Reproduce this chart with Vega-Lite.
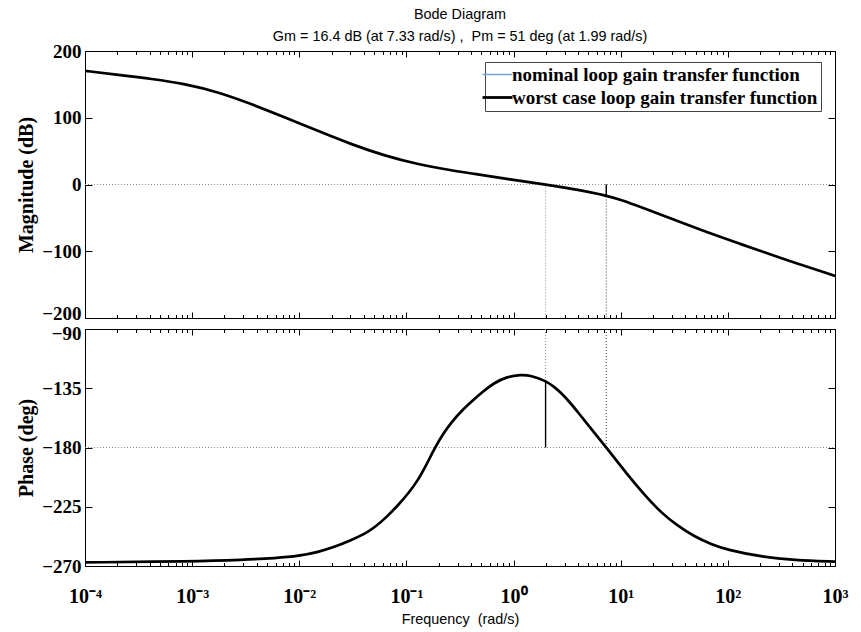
{
  "$schema": "https://vega.github.io/schema/vega-lite/v6.json",
  "background": "white",
  "padding": {"left": 16, "top": 7, "right": 5, "bottom": 2},
  "title": {
    "text": "Bode Diagram",
    "subtitle": "Gm = 16.4 dB (at 7.33 rad/s) , \u00a0Pm = 51 deg (at 1.99 rad/s)",
    "anchor": "middle",
    "frame": "group",
    "font": "Liberation Sans",
    "fontSize": 14.4,
    "fontWeight": "normal",
    "color": "black",
    "subtitleFont": "Liberation Sans",
    "subtitleFontSize": 14.4,
    "subtitleColor": "black",
    "subtitlePadding": 7.6,
    "offset": -2.4
  },
  "datasets": {
    "mag": [
      {"w": 0.0001, "db": 170.3}, {"w": 0.000205, "db": 164.3}, {"w": 0.000419, "db": 158.3},
      {"w": 0.000858, "db": 150.8}, {"w": 0.00176, "db": 138.4}, {"w": 0.0036, "db": 120.4},
      {"w": 0.00736, "db": 100.4}, {"w": 0.0151, "db": 80}, {"w": 0.0308, "db": 60},
      {"w": 0.0631, "db": 43}, {"w": 0.129, "db": 30}, {"w": 0.265, "db": 21},
      {"w": 0.43, "db": 16}, {"w": 0.88, "db": 8.1}, {"w": 1.99, "db": 0},
      {"w": 3.69, "db": -7}, {"w": 7.33, "db": -16.4}, {"w": 10, "db": -23},
      {"w": 15.5, "db": -33.9}, {"w": 31.6, "db": -52.9}, {"w": 64.6, "db": -71.9},
      {"w": 132, "db": -89.3}, {"w": 270, "db": -106.8}, {"w": 1000, "db": -137}
    ],
    "phase": [
      {"w": 0.0001, "deg": -267.3}, {"w": 0.001, "deg": -266.5}, {"w": 0.003, "deg": -265.3},
      {"w": 0.006, "deg": -264}, {"w": 0.01, "deg": -262.4}, {"w": 0.0151, "deg": -259.3},
      {"w": 0.021, "deg": -255.8}, {"w": 0.0308, "deg": -250.2}, {"w": 0.04, "deg": -246},
      {"w": 0.0509, "deg": -240.5}, {"w": 0.065, "deg": -233}, {"w": 0.0841, "deg": -223.6},
      {"w": 0.105, "deg": -214.5}, {"w": 0.129, "deg": -204.6}, {"w": 0.155, "deg": -192.5},
      {"w": 0.185, "deg": -180}, {"w": 0.22, "deg": -169.5}, {"w": 0.265, "deg": -160.5},
      {"w": 0.323, "deg": -152.5}, {"w": 0.42, "deg": -144}, {"w": 0.497, "deg": -138.6},
      {"w": 0.661, "deg": -130.8}, {"w": 0.85, "deg": -126.5}, {"w": 1.17, "deg": -124.6},
      {"w": 1.45, "deg": -125.3}, {"w": 1.99, "deg": -129.3}, {"w": 2.4, "deg": -134},
      {"w": 2.77, "deg": -138.5}, {"w": 3.3, "deg": -145}, {"w": 3.97, "deg": -153},
      {"w": 5.3, "deg": -165.8}, {"w": 7.33, "deg": -180}, {"w": 11.6, "deg": -200.8},
      {"w": 16.6, "deg": -215.8}, {"w": 23.8, "deg": -229.5}, {"w": 34, "deg": -239.5},
      {"w": 48.6, "deg": -247.6}, {"w": 70, "deg": -253.5}, {"w": 99.6, "deg": -257.8},
      {"w": 204, "deg": -263}, {"w": 417, "deg": -265.5}, {"w": 1000, "deg": -266.7}
    ],
    "rules": [
      {"panel": "mag", "kind": "h", "tone": "light", "w": 0.0001, "w2": 1000, "a": 0},
      {"panel": "mag", "kind": "v", "tone": "light", "w": 1.99, "a": 0, "b": -200},
      {"panel": "mag", "kind": "v", "tone": "dark", "w": 7.33, "a": 0, "b": -200},
      {"panel": "mag", "kind": "m", "tone": "solid", "w": 7.33, "a": 0, "b": -16.4},
      {"panel": "phase", "kind": "h", "tone": "light", "w": 0.0001, "w2": 1000, "a": -180},
      {"panel": "phase", "kind": "v", "tone": "light", "w": 1.99, "a": -90, "b": -129},
      {"panel": "phase", "kind": "v", "tone": "dark", "w": 7.33, "a": -90, "b": -180},
      {"panel": "phase", "kind": "m", "tone": "solid", "w": 1.99, "a": -180, "b": -129}
    ]
  },
  "spacing": 11,
  "bounds": "flush",
  "resolve": {"legend": {"color": "independent"}},
  "vconcat": [
    {
      "width": 750,
      "height": 267,
      "layer": [
        {
          "data": {"name": "rules"},
          "transform": [{"filter": "datum.panel == 'mag' && datum.kind == 'h'"}],
          "mark": {"type": "rule", "strokeDash": [1, 2], "strokeWidth": 1, "color": "#8a8a8a"},
          "encoding": {
            "x": {"field": "w", "type": "quantitative", "scale": {"type": "log", "domain": [0.0001, 1000], "nice": false},
              "axis": {"orient": "top", "values": [0.0002,0.0003,0.0004,0.0005,0.0006,0.0007,0.0008,0.0009,0.002,0.003,0.004,0.005,0.006,0.007,0.008,0.009,0.02,0.03,0.04,0.05,0.06,0.07,0.08,0.09,0.2,0.3,0.4,0.5,0.6,0.7,0.8,0.9,2,3,4,5,6,7,8,9,20,30,40,50,60,70,80,90,200,300,400,500,600,700,800,900], "tickSize": -3.5, "labels": false, "domain": false, "title": null}},
            "x2": {"field": "w2"},
            "y": {"field": "a", "type": "quantitative", "scale": {"domain": [-200, 200], "nice": false}, "axis": null}
          }
        },
        {
          "data": {"name": "rules"},
          "transform": [{"filter": "datum.panel == 'mag' && datum.kind == 'v'"}],
          "mark": {"type": "rule", "strokeDash": [1, 2], "strokeWidth": 1},
          "encoding": {
            "x": {"field": "w", "type": "quantitative", "scale": {"type": "log", "domain": [0.0001, 1000], "nice": false},
              "axis": {"orient": "bottom", "values": [0.0002,0.0003,0.0004,0.0005,0.0006,0.0007,0.0008,0.0009,0.002,0.003,0.004,0.005,0.006,0.007,0.008,0.009,0.02,0.03,0.04,0.05,0.06,0.07,0.08,0.09,0.2,0.3,0.4,0.5,0.6,0.7,0.8,0.9,2,3,4,5,6,7,8,9,20,30,40,50,60,70,80,90,200,300,400,500,600,700,800,900], "tickSize": -3.5, "labels": false, "domain": false, "title": null}},
            "y": {"field": "a", "type": "quantitative", "scale": {"domain": [-200, 200], "nice": false},
              "axis": {"orient": "right", "values": [-200, -100, 0, 100, 200], "tickSize": -7, "labels": false, "title": null}},
            "y2": {"field": "b"},
            "stroke": {"condition": {"test": "datum.tone == 'dark'", "value": "#333333"}, "value": "#8a8a8a"}
          }
        },
        {
          "data": {"name": "rules"},
          "transform": [{"filter": "datum.panel == 'mag' && datum.kind == 'm'"}],
          "mark": {"type": "rule", "strokeWidth": 1.4, "color": "black"},
          "encoding": {
            "x": {"field": "w", "type": "quantitative", "scale": {"type": "log", "domain": [0.0001, 1000], "nice": false},
              "axis": {"orient": "top", "values": [0.0001, 0.001, 0.01, 0.1, 1, 10, 100, 1000], "tickSize": -6, "labels": false, "title": null}},
            "y": {"field": "a", "type": "quantitative", "scale": {"domain": [-200, 200], "nice": false}, "axis": null},
            "y2": {"field": "b"}
          }
        },
        {
          "data": {"name": "mag"},
          "mark": {"type": "line", "strokeWidth": 2.7, "interpolate": "basis", "clip": true},
          "encoding": {
            "x": {"field": "w", "type": "quantitative", "scale": {"type": "log", "domain": [0.0001, 1000], "nice": false},
              "axis": {"orient": "bottom", "values": [0.0001, 0.001, 0.01, 0.1, 1, 10, 100, 1000], "tickSize": -6, "labels": false, "title": null}},
            "y": {"field": "db", "type": "quantitative", "scale": {"domain": [-200, 200], "nice": false},
              "axis": {"orient": "left", "values": [-200, -100, 0, 100, 200], "tickSize": -7, "labelPadding": 11,
                "labelOffset": {"condition": {"test": "datum.value == -200", "value": -4.5}, "value": 0},
                "title": "Magnitude (dB)", "titlePadding": 4, "minExtent": 45, "maxExtent": 45}},
            "color": {
              "datum": "worst case loop gain transfer function",
              "type": "nominal",
              "scale": {"domain": ["nominal loop gain transfer function", "worst case loop gain transfer function"], "range": ["#6aa9dc", "black"]},
              "legend": {
                "orient": "none", "legendX": 400, "legendY": 11, "title": null,
                "symbolType": "stroke", "symbolSize": 900, "symbolStrokeWidth": 2.6,
                "labelFont": "Liberation Serif", "labelFontSize": 19, "labelFontWeight": "bold", "labelColor": "black",
                "labelOffset": 5, "labelLimit": 500,
                "strokeColor": "#444444", "fillColor": "white", "padding": 3, "rowPadding": 3,
                "encode": {"symbols": {"update": {"strokeWidth": {"signal": "datum.value == 'nominal loop gain transfer function' ? 1.5 : 2.8"}}}}
              }
            }
          }
        }
      ],
      "resolve": {"axis": {"x": "independent", "y": "independent"}}
    },
    {
      "width": 750,
      "height": 237,
      "layer": [
        {
          "data": {"name": "rules"},
          "transform": [{"filter": "datum.panel == 'phase' && datum.kind == 'h'"}],
          "mark": {"type": "rule", "strokeDash": [1, 2], "strokeWidth": 1, "color": "#8a8a8a"},
          "encoding": {
            "x": {"field": "w", "type": "quantitative", "scale": {"type": "log", "domain": [0.0001, 1000], "nice": false},
              "axis": {"orient": "top", "values": [0.0002,0.0003,0.0004,0.0005,0.0006,0.0007,0.0008,0.0009,0.002,0.003,0.004,0.005,0.006,0.007,0.008,0.009,0.02,0.03,0.04,0.05,0.06,0.07,0.08,0.09,0.2,0.3,0.4,0.5,0.6,0.7,0.8,0.9,2,3,4,5,6,7,8,9,20,30,40,50,60,70,80,90,200,300,400,500,600,700,800,900], "tickSize": -3.5, "labels": false, "domain": false, "title": null}},
            "x2": {"field": "w2"},
            "y": {"field": "a", "type": "quantitative", "scale": {"domain": [-270, -90], "nice": false}, "axis": null}
          }
        },
        {
          "data": {"name": "rules"},
          "transform": [{"filter": "datum.panel == 'phase' && datum.kind == 'v'"}],
          "mark": {"type": "rule", "strokeDash": [1, 2], "strokeWidth": 1},
          "encoding": {
            "x": {"field": "w", "type": "quantitative", "scale": {"type": "log", "domain": [0.0001, 1000], "nice": false},
              "axis": {"orient": "bottom", "values": [0.0002,0.0003,0.0004,0.0005,0.0006,0.0007,0.0008,0.0009,0.002,0.003,0.004,0.005,0.006,0.007,0.008,0.009,0.02,0.03,0.04,0.05,0.06,0.07,0.08,0.09,0.2,0.3,0.4,0.5,0.6,0.7,0.8,0.9,2,3,4,5,6,7,8,9,20,30,40,50,60,70,80,90,200,300,400,500,600,700,800,900], "tickSize": -3.5, "labels": false, "domain": false, "title": null}},
            "y": {"field": "a", "type": "quantitative", "scale": {"domain": [-270, -90], "nice": false},
              "axis": {"orient": "right", "values": [-270, -225, -180, -135, -90], "tickSize": -7, "labels": false, "title": null}},
            "y2": {"field": "b"},
            "stroke": {"condition": {"test": "datum.tone == 'dark'", "value": "#333333"}, "value": "#8a8a8a"}
          }
        },
        {
          "data": {"name": "rules"},
          "transform": [{"filter": "datum.panel == 'phase' && datum.kind == 'm'"}],
          "mark": {"type": "rule", "strokeWidth": 1.4, "color": "black"},
          "encoding": {
            "x": {"field": "w", "type": "quantitative", "scale": {"type": "log", "domain": [0.0001, 1000], "nice": false},
              "axis": {"orient": "top", "values": [0.0001, 0.001, 0.01, 0.1, 1, 10, 100, 1000], "tickSize": -6, "labels": false, "title": null}},
            "y": {"field": "a", "type": "quantitative", "scale": {"domain": [-270, -90], "nice": false}, "axis": null},
            "y2": {"field": "b"}
          }
        },
        {
          "data": {"name": "phase"},
          "mark": {"type": "line", "strokeWidth": 2.7, "interpolate": "basis", "clip": true, "color": "black"},
          "encoding": {
            "x": {"field": "w", "type": "quantitative", "scale": {"type": "log", "domain": [0.0001, 1000], "nice": false},
              "axis": {"orient": "bottom", "values": [0.0001, 0.001, 0.01, 0.1, 1, 10, 100, 1000], "tickSize": -6, "labelPadding": 26,
                "labelExpr": "datum.value < 0.0005 ? '10⁻⁴' : datum.value < 0.005 ? '10⁻³' : datum.value < 0.05 ? '10⁻²' : datum.value < 0.5 ? '10⁻¹' : datum.value < 5 ? '10⁰' : datum.value < 50 ? '10¹' : datum.value < 500 ? '10²' : '10³'",
                "labelFontSize": 20,
                "title": "Frequency \u00a0(rad/s)", "titleFont": "Liberation Sans", "titleFontWeight": "normal", "titleFontSize": 14.4, "titlePadding": 6}},
            "y": {"field": "deg", "type": "quantitative", "scale": {"domain": [-270, -90], "nice": false},
              "axis": {"orient": "left", "values": [-270, -225, -180, -135, -90], "tickSize": -7, "labelPadding": 11,
                "labelOffset": {"condition": {"test": "datum.value == -90", "value": 4.5}, "value": 0},
                "title": "Phase (deg)", "titlePadding": 4, "minExtent": 45, "maxExtent": 45}}
          }
        }
      ],
      "resolve": {"axis": {"x": "independent", "y": "independent"}}
    }
  ],
  "config": {
    "view": {"stroke": null},
    "axis": {
      "grid": false,
      "domainColor": "black", "tickColor": "black", "labelColor": "black", "titleColor": "black",
      "domainWidth": 1, "tickWidth": 1,
      "labelFont": "Liberation Serif", "labelFontWeight": "bold", "labelFontSize": 19,
      "titleFont": "Liberation Serif", "titleFontWeight": "bold", "titleFontSize": 20,
      "labelOverlap": false, "labelBound": false, "labelFlush": false
    }
  }
}
